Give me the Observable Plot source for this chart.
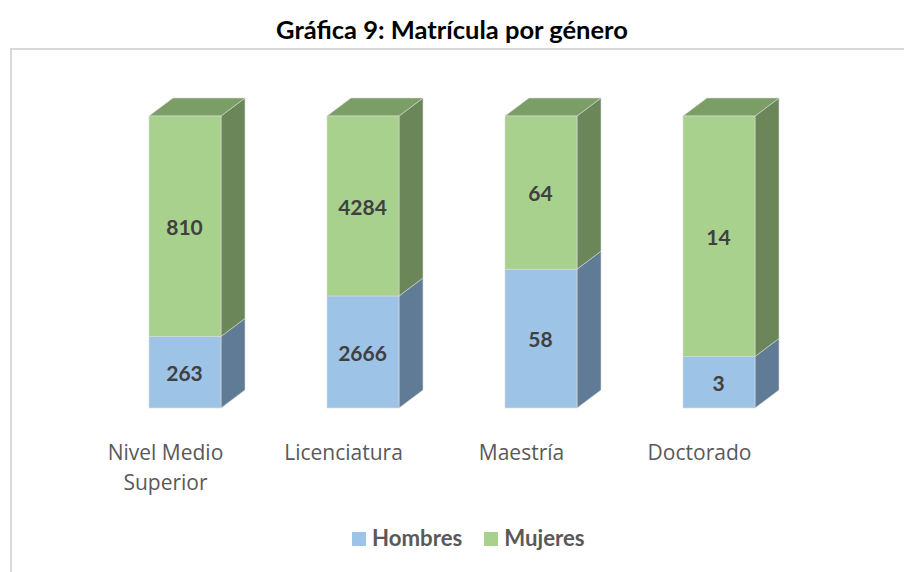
<!DOCTYPE html>
<html><head><meta charset="utf-8">
<script src="https://cdn.jsdelivr.net/npm/d3@7"></script>
<script src="https://cdn.jsdelivr.net/npm/@observablehq/plot@0.6"></script>
<style>
html,body{margin:0;padding:0;background:#fff;overflow:hidden;width:904px;height:572px}
#wrap{position:relative;width:904px;height:572px;overflow:hidden}
#frame{position:absolute;left:10px;top:48px;width:920px;height:560px;border:2px solid #d9d9d9;box-sizing:border-box}
#title{position:relative;height:48px;text-align:center;font:bold 25.5px/58px Lato,sans-serif;color:#000;white-space:nowrap}
#chart{position:relative;height:452px}
#chart svg{display:block;overflow:visible}
#legend{position:relative;display:flex;font:bold 22.2px Lato,sans-serif;color:#595959;height:72px;padding-left:352px;box-sizing:border-box;padding-top:27px;align-items:flex-start}
#legend span.s{width:14px;height:14px;display:inline-block;margin-right:6px;margin-top:5px}
#legend span.t{margin-right:22px;line-height:22px}
</style></head><body>
<div id="wrap">
<div id="frame"></div>
<div id="title">Gráfica 9: Matrícula por género</div>
<div id="chart"></div>
<div id="legend"></div>
</div>
<script>
const categories = ["Nivel Medio Superior","Licenciatura","Maestría","Doctorado"];
const hombres = [263,2666,58,3];
const mujeres = [810,4284,64,14];
const seriesNames = ["Hombres","Mujeres"];
const frontColors = ["#9dc3e6","#a9d18e"];
const sideColors = ["#5f7b96","#6b8759"];
const topColor = "#7b9d66";
const depthX = 24, depthY = 18;

const rows = categories.flatMap((c,i)=>{
  const t = hombres[i]+mujeres[i];
  const h = hombres[i]/t;
  return [
    {cat:c, series:seriesNames[0], value:hombres[i], y1:0, y2:h},
    {cat:c, series:seriesNames[1], value:mujeres[i], y1:h, y2:1}
  ];
});
const NS = "http://www.w3.org/2000/svg";
function poly(pts, fill){
  const p = document.createElementNS(NS,"polygon");
  p.setAttribute("points", pts.map(q=>q.join(",")).join(" "));
  p.setAttribute("fill", fill);
  return p;
}
function box3d(index, scales, values, dims, ctx, next){
  const g = next(index, scales, values, dims, ctx);
  const side = document.createElementNS(NS,"g");
  const bw = scales.x.bandwidth();
  for (const i of index){
    const d = rows[i];
    const x1 = scales.x(d.cat)+bw, x0 = x1-bw;
    const a = scales.y(d.y1), b = scales.y(d.y2);
    side.appendChild(poly([[x1,a],[x1+depthX,a-depthY],[x1+depthX,b-depthY],[x1,b]],
      sideColors[seriesNames.indexOf(d.series)]));
    if (d.y2===1) side.appendChild(poly([[x0,b],[x0+depthX,b-depthY],[x1+depthX,b-depthY],[x1,b]], topColor));
  }
  g.insertBefore(side, g.firstChild);
  return g;
}
const plot = Plot.plot({
  width:904, height:452,
  marginTop:68, marginBottom:92, marginLeft:43, marginRight:43,
  style:{background:"transparent",overflow:"visible"},
  x:{type:"band",domain:categories,padding:0.5955,round:false,label:null},
  y:{domain:[0,1],axis:null,label:null},
  color:{domain:seriesNames,range:frontColors},
  marks:[
    Plot.axisX({
      tickSize:0, tickPadding:30, dx:-20, label:null,
      fontSize:21, fontFamily:"Open Sans", fill:"#595959", lineWidth:7, lineHeight:1.43,
      tickFormat:d=>d
    }),
    Plot.rectY(rows,{x:"cat",y1:"y1",y2:"y2",fill:"series",render:box3d,stroke:"#d9d9d9",strokeWidth:0.6}),
    Plot.text(rows,{x:"cat",y:d=>(d.y1+d.y2)/2,text:d=>String(d.value),dx:-1,dy:1.5,
      fontFamily:"Lato",fontWeight:"bold",fontSize:21,fill:"#404040"})
  ]
});
document.getElementById("chart").appendChild(plot);
const lg = document.getElementById("legend");
seriesNames.forEach((n,i)=>{
  const s=document.createElement("span");s.className="s";s.style.background=frontColors[i];
  const t=document.createElement("span");t.className="t";t.textContent=n;
  lg.append(s,t);
});
</script>
</body></html>
